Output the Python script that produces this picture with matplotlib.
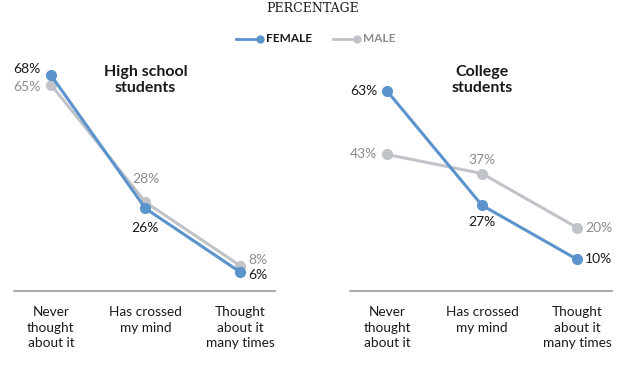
import numpy as np
import matplotlib
matplotlib.use("Agg")
import matplotlib.pyplot as plt
from matplotlib.lines import Line2D

plt.rcParams['font.family'] = ['Lato', 'DejaVu Sans']

categories = ["Never\nthought\nabout it", "Has crossed\nmy mind", "Thought\nabout it\nmany times"]
panels = ["High school\nstudents", "College\nstudents"]
female_hs = [68, 26, 6]
male_hs = [65, 28, 8]
female_col = [63, 27, 10]
male_col = [43, 37, 20]

blue = "#5b93cc"
grey = "#c0c4c9"
dark = "#1a1a1a"
greytxt = "#8a8d90"

fig = plt.figure(figsize=(6.39, 3.66), dpi=100)
W, H = 639, 366

def add_ax(x0, x1):
    # pixel coords -> figure fraction, y axis 0 at px 291, 80 at px 37
    return fig.add_axes([x0 / W, (H - 291) / H, (x1 - x0) / W, (291 - 37) / H])

ax1 = add_ax(14, 275)
ax2 = add_ax(350, 612)

# label placement: (side, vertical shift in px, up positive)
hs_fem_pos = [("left", 6), ("below", 20), ("right", -3)]
hs_mal_pos = [("left", -2), ("above", 23), ("right", 6)]
col_fem_pos = [("left", 0), ("below", 17), ("right", 0)]
col_mal_pos = [("left", 0), ("above", 14), ("right", 0)]

def place(ax, x, y, txt, where, color):
    side, d = where
    k = 0.72  # px -> points
    if side == "left":
        off, ha = (-10 * k, d * k), "right"
    elif side == "right":
        off, ha = (8 * k, d * k), "left"
    elif side == "above":
        off, ha = (0, d * k), "center"
    else:
        off, ha = (0, -d * k), "center"
    ax.annotate(txt, (x, y), xytext=off, textcoords="offset points",
                ha=ha, va="center", color=color, fontsize=10)

for ax, fem, mal, title, fpos, mpos in [(ax1, female_hs, male_hs, panels[0], hs_fem_pos, hs_mal_pos),
                                        (ax2, female_col, male_col, panels[1], col_fem_pos, col_mal_pos)]:
    x = np.arange(len(categories))
    ax.plot(x, mal, color=grey, lw=2.2, marker="o", ms=7, zorder=2)
    ax.plot(x, fem, color=blue, lw=2.2, marker="o", ms=7, zorder=3)
    for i in range(len(x)):
        place(ax, x[i], fem[i], f"{fem[i]}%", fpos[i], dark)
        place(ax, x[i], mal[i], f"{mal[i]}%", mpos[i], greytxt)
    ax.set_xlim(-0.39, 2.37)
    ax.set_ylim(0, 80)
    ax.set_yticks([])
    ax.set_xticks(x)
    ax.set_xticklabels(categories, fontsize=9.8, color=dark, linespacing=1.35, va="top")
    ax.tick_params(axis="x", length=0, pad=11)
    for s in ["top", "right", "left"]:
        ax.spines[s].set_visible(False)
    ax.spines["bottom"].set_color("#9a9a9a")
    ax.spines["bottom"].set_linewidth(1.2)
    ax.text(1.0, 66.5, title, ha="center", va="center", fontsize=11.5,
            fontweight="bold", color=dark, linespacing=1.2)

fig.text(313 / W, 1 - 8 / H, "PERCENTAGE", family="DejaVu Serif", fontsize=9,
         ha="center", va="center", color=dark)

# legend drawn by hand: line with dot at its right end, then bold label
ly = 1 - 39 / H
for (x0, x1, col, lab, tcol) in [(236, 260, blue, "FEMALE", dark), (333, 357, grey, "MALE", greytxt)]:
    fig.add_artist(Line2D([x0 / W, x1 / W], [ly, ly], color=col, lw=2, transform=fig.transFigure))
    fig.add_artist(Line2D([x1 / W], [ly], color=col, marker="o", ms=5, transform=fig.transFigure))
    fig.text((x1 + 6) / W, ly, lab, fontsize=8.5, fontweight="bold", color=tcol,
             ha="left", va="center")

fig.savefig("out.png", dpi=100)
